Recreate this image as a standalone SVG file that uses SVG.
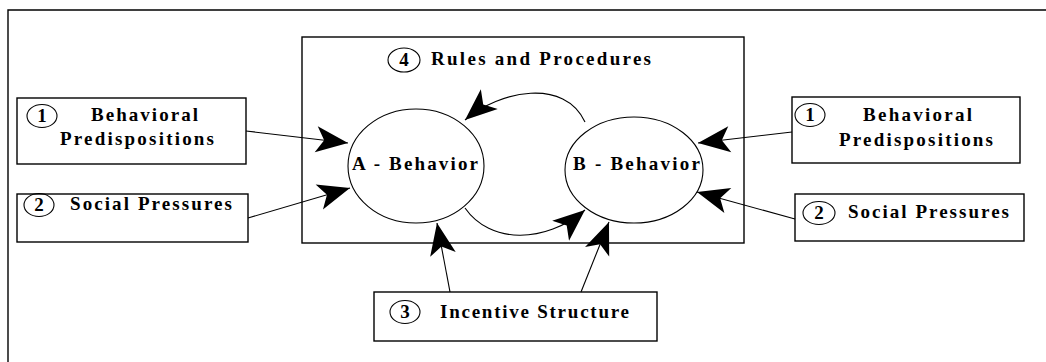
<svg xmlns="http://www.w3.org/2000/svg" width="1046" height="362" viewBox="0 0 1046 362">
<style>
.box{fill:#fff;stroke:#000;stroke-width:1.4}
.num{fill:none;stroke:#000;stroke-width:1.1}
.ell{fill:#fff;stroke:#000;stroke-width:1.1}
.frame{fill:none;stroke:#000;stroke-width:1.4}
text{font-family:"Liberation Serif","Times New Roman",serif;font-size:19px;font-weight:bold;fill:#000}
.d{text-anchor:middle}
.conn path{fill:none;stroke:#000;stroke-width:1.1}
</style>
<defs>
<marker id="ah" markerUnits="userSpaceOnUse" viewBox="-36 -16 38 32" refX="0" refY="0" markerWidth="38" markerHeight="32" orient="auto" overflow="visible">
<path d="M0,0 L-32,-13 L-24,0 L-32,13 Z" fill="#000"/>
</marker>
</defs>
<rect width="1046" height="362" fill="#fff"/>
<path class="frame" d="M8,362 V10 H1046"/>

<g id="rules">
<rect class="box" x="302" y="37" width="442" height="206"/>
<ellipse class="num" cx="404" cy="60" rx="16" ry="12"/>
<text class="d" x="404" y="66">4</text>
<text x="431" y="65" textLength="220" lengthAdjust="spacing">Rules and Procedures</text>
</g>

<g id="a-behavior">
<ellipse class="ell" cx="416" cy="166" rx="68" ry="57"/>
<text x="352" y="170" textLength="126" lengthAdjust="spacing">A - Behavior</text>
</g>

<g id="b-behavior">
<ellipse class="ell" cx="634" cy="170" rx="69" ry="53"/>
<text x="573" y="170" textLength="127" lengthAdjust="spacing">B - Behavior</text>
</g>

<g id="left-predispositions">
<rect class="box" x="17" y="98" width="229" height="66"/>
<ellipse class="num" cx="42" cy="116" rx="15" ry="11.5"/>
<text class="d" x="42" y="122">1</text>
<text x="91" y="121" textLength="107" lengthAdjust="spacing">Behavioral</text>
<text x="60" y="145" textLength="154" lengthAdjust="spacing">Predispositions</text>
</g>

<g id="left-social">
<rect class="box" x="17" y="194" width="231" height="48"/>
<ellipse class="num" cx="39" cy="205" rx="15" ry="11.5"/>
<text class="d" x="39" y="211">2</text>
<text x="70" y="210" textLength="162" lengthAdjust="spacing">Social Pressures</text>
</g>

<g id="right-predispositions">
<rect class="box" x="792" y="97" width="228" height="66"/>
<ellipse class="num" cx="810" cy="115" rx="15" ry="11.5"/>
<text class="d" x="810" y="121">1</text>
<text x="863" y="121" textLength="109" lengthAdjust="spacing">Behavioral</text>
<text x="839" y="146" textLength="154" lengthAdjust="spacing">Predispositions</text>
</g>

<g id="right-social">
<rect class="box" x="795" y="194" width="229" height="47"/>
<ellipse class="num" cx="819" cy="213" rx="16" ry="11.5"/>
<text class="d" x="819" y="219">2</text>
<text x="848" y="218" textLength="161" lengthAdjust="spacing">Social Pressures</text>
</g>

<g id="incentive">
<rect class="box" x="374" y="292" width="283" height="49"/>
<ellipse class="num" cx="405" cy="312" rx="15" ry="11.5"/>
<text class="d" x="405" y="318">3</text>
<text x="440" y="318" textLength="189" lengthAdjust="spacing">Incentive Structure</text>
</g>

<g id="connectors" class="conn">
<path d="M246,131 L348,143" marker-end="url(#ah)"/>
<path d="M248,218 L350,188" marker-end="url(#ah)"/>
<path d="M792,132 L698,143" marker-end="url(#ah)"/>
<path d="M795,219 L697,192" marker-end="url(#ah)"/>
<path d="M450,292 L437,223" marker-end="url(#ah)"/>
<path d="M581,292 L609,222" marker-end="url(#ah)"/>
<path d="M585,122 C565,78 500,90 465,120" marker-end="url(#ah)"/>
<path d="M465,208 C490,244 545,244 585,210" marker-end="url(#ah)"/>
</g>
</svg>
